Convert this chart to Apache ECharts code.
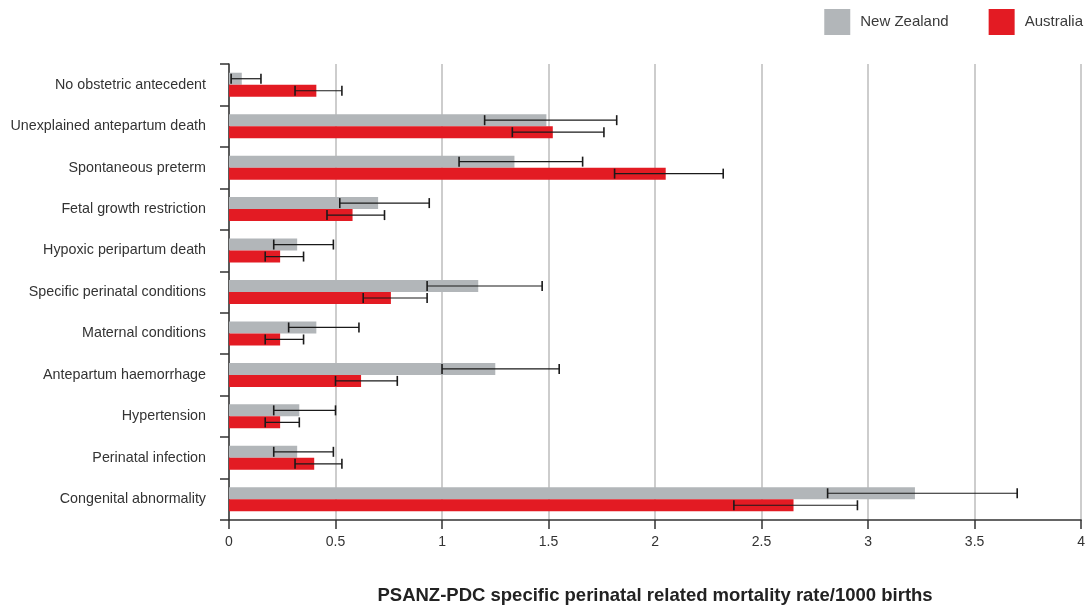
<!DOCTYPE html>
<html>
<head>
<meta charset="utf-8">
<script src="https://cdn.jsdelivr.net/npm/echarts@6/dist/echarts.min.js"></script>
<style>
  html, body { margin: 0; padding: 0; background: #fff; }
  #chart { width: 1088px; height: 610px; }
</style>
</head>
<body>
<div id="chart"></div>
<script>
// Causes of perinatal death, listed top to bottom
const categories = [
  'No obstetric antecedent',
  'Unexplained antepartum death',
  'Spontaneous preterm',
  'Fetal growth restriction',
  'Hypoxic peripartum death',
  'Specific perinatal conditions',
  'Maternal conditions',
  'Antepartum haemorrhage',
  'Hypertension',
  'Perinatal infection',
  'Congenital abnormality'
];

// Rates per 1000 births with 95% confidence limits
const nzRate = [0.06, 1.49, 1.34, 0.70, 0.32, 1.17, 0.41, 1.25, 0.33, 0.32, 3.22];
const nzLow  = [0.01, 1.20, 1.08, 0.52, 0.21, 0.93, 0.28, 1.00, 0.21, 0.21, 2.81];
const nzHigh = [0.15, 1.82, 1.66, 0.94, 0.49, 1.47, 0.61, 1.55, 0.50, 0.49, 3.70];

const auRate = [0.41, 1.52, 2.05, 0.58, 0.24, 0.76, 0.24, 0.62, 0.24, 0.40, 2.65];
const auLow  = [0.31, 1.33, 1.81, 0.46, 0.17, 0.63, 0.17, 0.50, 0.17, 0.31, 2.37];
const auHigh = [0.53, 1.76, 2.32, 0.73, 0.35, 0.93, 0.35, 0.79, 0.33, 0.53, 2.95];

const xTicks = [0, 0.5, 1, 1.5, 2, 2.5, 3, 3.5, 4];

const NZ_COLOR = '#b2b6b9';
const AU_COLOR = '#e31b23';
const BAR_W = 12;
const FONT = 'Liberation Sans';

function errorSeries(name, low, high, offset) {
  return {
    name: name + ' CI',
    type: 'custom',
    silent: true,
    z: 10,
    encode: { x: [0, 1], y: 2 },
    data: low.map((l, i) => [l, high[i], i]),
    renderItem: function (params, api) {
      const y = api.value(2);
      const p0 = api.coord([api.value(0), y]);
      const p1 = api.coord([api.value(1), y]);
      const cy = p0[1] + offset;
      const cap = 5;
      const capStyle = { stroke: '#1a1a1a', lineWidth: 1.6 };
      return {
        type: 'group',
        children: [
          { type: 'line', shape: { x1: p0[0], y1: cy, x2: p1[0], y2: cy }, style: { stroke: '#1a1a1a', lineWidth: 1.2 } },
          { type: 'line', shape: { x1: p0[0], y1: cy - cap, x2: p0[0], y2: cy + cap }, style: capStyle },
          { type: 'line', shape: { x1: p1[0], y1: cy - cap, x2: p1[0], y2: cy + cap }, style: capStyle }
        ]
      };
    }
  };
}

const chart = echarts.init(document.getElementById('chart'), null, { renderer: 'canvas' });

chart.setOption({
  animation: false,
  backgroundColor: '#ffffff',
  textStyle: { fontFamily: FONT },
  legend: {
    top: 4,
    right: 0,
    itemWidth: 26,
    itemHeight: 26,
    itemGap: 40,
    icon: 'rect',
    textStyle: { fontFamily: FONT, fontSize: 15, color: '#3a3a3a', padding: [0, 0, 0, 5] },
    data: ['New Zealand', 'Australia']
  },
  grid: { left: 229, right: 6, top: 64, bottom: 71, containLabel: false },
  xAxis: {
    type: 'value',
    min: xTicks[0],
    max: xTicks[xTicks.length - 1],
    interval: 0.5,
    name: 'PSANZ-PDC specific perinatal related mortality rate/1000 births',
    nameLocation: 'middle',
    nameGap: 66,
    nameTextStyle: { fontFamily: FONT, fontSize: 18.5, fontWeight: 'bold', color: '#222' },
    axisLine: { show: true, lineStyle: { color: '#333', width: 1.5 } },
    axisTick: { show: true, length: 9, lineStyle: { color: '#333', width: 1.5 } },
    axisLabel: { fontFamily: FONT, fontSize: 14, color: '#333', margin: 15 },
    splitLine: { show: true, lineStyle: { color: '#bdbdbd', width: 1.5 } }
  },
  yAxis: {
    type: 'category',
    data: categories,
    inverse: true,
    axisLine: { show: true, lineStyle: { color: '#333', width: 1.5 } },
    axisTick: { show: true, length: 9, lineStyle: { color: '#333', width: 1.5 } },
    axisLabel: { fontFamily: FONT, fontSize: 14.3, color: '#333', margin: 23 },
    splitLine: { show: false }
  },
  series: [
    {
      name: 'New Zealand',
      type: 'bar',
      data: nzRate,
      barWidth: BAR_W,
      barGap: '0%',
      itemStyle: { color: NZ_COLOR }
    },
    {
      name: 'Australia',
      type: 'bar',
      data: auRate,
      barWidth: BAR_W,
      barGap: '0%',
      itemStyle: { color: AU_COLOR }
    },
    errorSeries('New Zealand', nzLow, nzHigh, -BAR_W / 2),
    errorSeries('Australia', auLow, auHigh, BAR_W / 2)
  ]
});
</script>
</body>
</html>
